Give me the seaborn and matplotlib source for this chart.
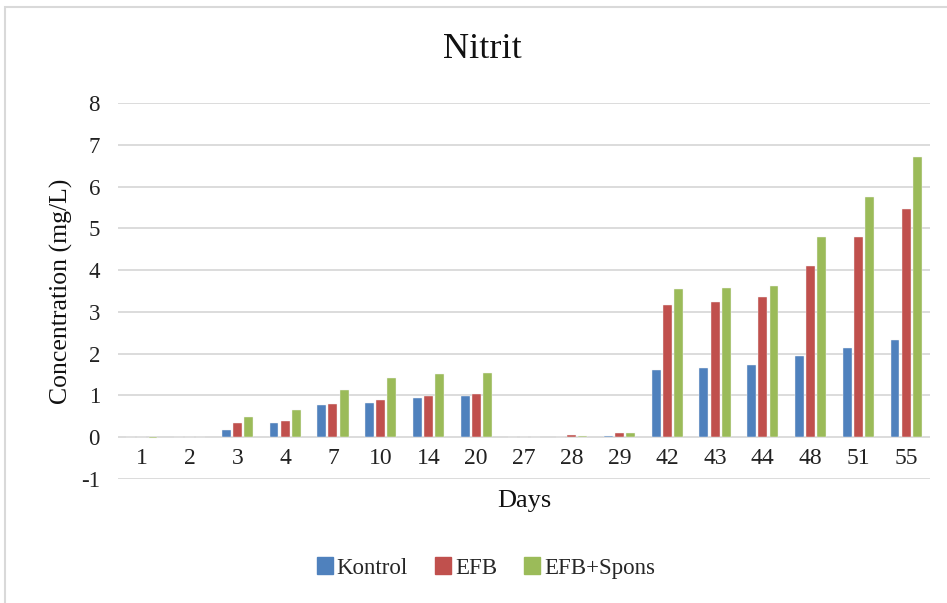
import matplotlib
matplotlib.use("Agg")
import matplotlib.pyplot as plt
from matplotlib.patches import Rectangle
import seaborn as sns
import pandas as pd

days = ["1", "2", "3", "4", "7", "10", "14", "20", "27", "28", "29",
        "42", "43", "44", "48", "51", "55"]
kontrol = [0.00, 0.00, 0.18, 0.35, 0.76, 0.82, 0.93, 0.98, 0.00, 0.01, 0.03,
           1.60, 1.66, 1.72, 1.94, 2.13, 2.32]
efb = [0.00, 0.00, 0.34, 0.39, 0.79, 0.89, 0.98, 1.03, 0.00, 0.05, 0.10,
       3.16, 3.24, 3.35, 4.11, 4.79, 5.46]
efb_spons = [-0.02, 0.00, 0.48, 0.66, 1.14, 1.41, 1.52, 1.54, 0.00, 0.04, 0.10,
             3.54, 3.58, 3.62, 4.80, 5.74, 6.70]
series = ["Kontrol", "EFB", "EFB+Spons"]
colors = ["#4F81BD", "#C0504D", "#9BBB59"]
y_ticks = list(range(-1, 9))

df = pd.DataFrame({
    "Days": days * 3,
    "Value": kontrol + efb + efb_spons,
    "Series": [s for s in series for _ in days],
})

sns.set_theme(style="white")
plt.rcParams["font.family"] = ["Liberation Serif", "DejaVu Serif"]

fig = plt.figure(figsize=(9.47, 6.03), dpi=100)
ax = fig.add_axes([118 / 947, 1 - 479 / 603, (930 - 118) / 947, (479 - 103) / 603])

sns.barplot(data=df, x="Days", y="Value", hue="Series", order=days,
            hue_order=series, palette=colors, width=0.70, gap=0.2,
            edgecolor="#f4f4f4", linewidth=0.3, saturation=1, ax=ax, zorder=3)

ax.set_ylim(-1, 8)
ax.set_xlim(-0.5, len(days) - 0.5)
ax.set_yticks(y_ticks)
ax.set_yticklabels([str(t) for t in y_ticks], fontsize=16.5, color="#222222")
ax.tick_params(axis="y", length=0, pad=13)
for t in y_ticks:
    ax.axhline(t, color="#d9d9d9", linewidth=1.3, zorder=1)
ax.set_xticks([])
for i, d in enumerate(days):
    ax.text(i, -0.5, d, ha="center", va="center", fontsize=17, color="#222222")
for s in ax.spines.values():
    s.set_visible(False)

ax.set_xlabel("")
ax.set_ylabel("Concentration (mg/L)", fontsize=18.5, color="#111111", labelpad=6)
fig.text((118 + 930) / 2 / 947, 1 - 501 / 603, "Days", ha="center", va="center",
         fontsize=19, color="#111111")
fig.text(482 / 947, 1 - 50 / 603, "Nitrit", ha="center",
         va="center", fontsize=26, color="#111111")

ax.get_legend().remove()
handles = [Rectangle((0, 0), 1, 1, color=c) for c in colors]
fig.legend(handles, series, loc="center", bbox_to_anchor=(486 / 947, 1 - 568 / 603),
           ncol=3, frameon=False, fontsize=16.5, handlelength=0.7, handleheight=0.7,
           handletextpad=0.15, columnspacing=1.2)

fig.patches.append(Rectangle((5 / 947, -0.05), 1.1, 1 - 7 / 603 + 0.05,
                             transform=fig.transFigure, fill=False,
                             edgecolor="#d9d9d9", linewidth=1.5))

fig.savefig("out.png", dpi=100)
